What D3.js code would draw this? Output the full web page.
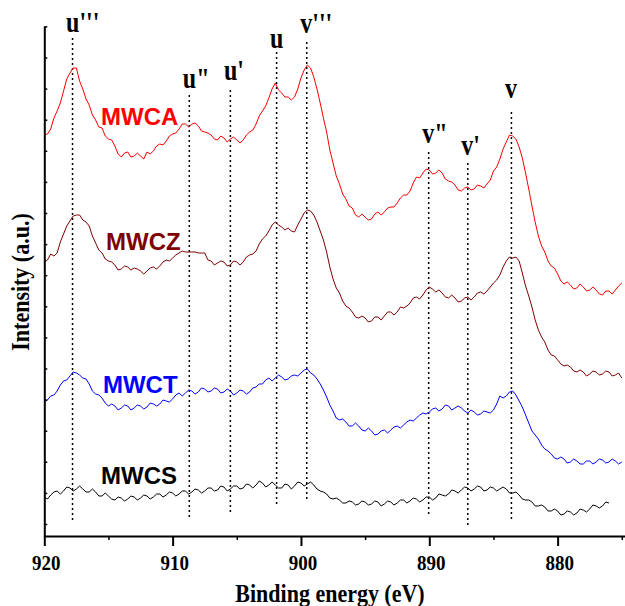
<!DOCTYPE html>
<html>
<head>
<meta charset="utf-8">
<script src="https://cdn.jsdelivr.net/npm/d3@7"></script>
<style>
  html, body { margin: 0; padding: 0; background: #fff; }
  svg { display: block; }
</style>
</head>
<body>
<svg id="chart" width="625" height="606"></svg>
<script>
// Ce 3d XPS spectra, binding energy (eV) vs intensity (a.u.), 0.25 eV steps
const energy = [
  920, 919.75, 919.5, 919.25, 919, 918.75, 918.5, 918.25,
  918, 917.75, 917.5, 917.25, 917, 916.75, 916.5, 916.25,
  916, 915.75, 915.5, 915.25, 915, 914.75, 914.5, 914.25,
  914, 913.75, 913.5, 913.25, 913, 912.75, 912.5, 912.25,
  912, 911.75, 911.5, 911.25, 911, 910.75, 910.5, 910.25,
  910, 909.75, 909.5, 909.25, 909, 908.75, 908.5, 908.25,
  908, 907.75, 907.5, 907.25, 907, 906.75, 906.5, 906.25,
  906, 905.75, 905.5, 905.25, 905, 904.75, 904.5, 904.25,
  904, 903.75, 903.5, 903.25, 903, 902.75, 902.5, 902.25,
  902, 901.75, 901.5, 901.25, 901, 900.75, 900.5, 900.25,
  900, 899.75, 899.5, 899.25, 899, 898.75, 898.5, 898.25,
  898, 897.75, 897.5, 897.25, 897, 896.75, 896.5, 896.25,
  896, 895.75, 895.5, 895.25, 895, 894.75, 894.5, 894.25,
  894, 893.75, 893.5, 893.25, 893, 892.75, 892.5, 892.25,
  892, 891.75, 891.5, 891.25, 891, 890.75, 890.5, 890.25,
  890, 889.75, 889.5, 889.25, 889, 888.75, 888.5, 888.25,
  888, 887.75, 887.5, 887.25, 887, 886.75, 886.5, 886.25,
  886, 885.75, 885.5, 885.25, 885, 884.75, 884.5, 884.25,
  884, 883.75, 883.5, 883.25, 883, 882.75, 882.5, 882.25,
  882, 881.75, 881.5, 881.25, 881, 880.75, 880.5, 880.25,
  880, 879.75, 879.5, 879.25, 879, 878.75, 878.5, 878.25,
  878, 877.75, 877.5, 877.25, 877, 876.75, 876.5, 876.25,
  876, 875.75, 875.5, 875.25, 875
];

const mwca = [
  401, 402, 407, 418, 425, 433, 445, 457, 463, 468,
  468, 455, 447, 437, 431, 421, 416, 409, 408, 400,
  397, 396, 390, 382, 379, 383, 384, 379, 380, 383,
  380, 377, 384, 382, 385, 390, 392, 391, 395, 400,
  402, 403, 407, 412, 412, 409, 412, 413, 410, 405,
  404, 403, 401, 397, 396, 400, 398, 394, 397, 399,
  396, 393, 396, 401, 404, 406, 412, 420, 425, 430,
  438, 447, 453, 446, 443, 439, 439, 436, 439, 447,
  458, 466, 471, 468, 459, 447, 433, 418, 404, 386,
  373, 360, 352, 342, 337, 330, 328, 321, 319, 322,
  319, 316, 317, 322, 324, 321, 324, 328, 329, 329,
  333, 338, 341, 341, 345, 353, 359, 358, 363, 367,
  366, 362, 363, 366, 363, 357, 355, 354, 351, 346,
  345, 348, 349, 346, 347, 351, 350, 348, 352, 356,
  365, 369, 377, 387, 394, 401, 400, 397, 389, 378,
  363, 347, 330, 314, 300, 290, 284, 275, 270, 268,
  262, 255, 252, 254, 251, 247, 248, 252, 249, 245,
  246, 249, 246, 242, 241, 245, 245, 242, 246, 250,
  253
];

const mwcz = [
  274, 276, 282, 280, 283, 294, 302, 310, 315, 320,
  321, 321, 316, 314, 310, 300, 293, 286, 283, 277,
  275, 274, 271, 266, 267, 270, 269, 266, 268, 267,
  265, 262, 265, 268, 269, 267, 270, 274, 276, 275,
  278, 281, 283, 285, 284, 284, 284, 284, 283, 283,
  283, 276, 275, 271, 273, 275, 274, 270, 271, 275,
  274, 271, 274, 279, 281, 282, 285, 292, 297, 300,
  305, 311, 314, 311, 309, 306, 308, 305, 304, 311,
  317, 323, 326, 325, 321, 314, 305, 296, 284, 269,
  257, 248, 243, 235, 230, 228, 224, 219, 218, 220,
  218, 214, 215, 219, 219, 216, 220, 224, 224, 221,
  224, 229, 228, 230, 233, 238, 239, 237, 241, 246,
  249, 247, 244, 246, 243, 239, 238, 241, 238, 234,
  235, 238, 239, 236, 239, 243, 244, 242, 245, 249,
  253, 256, 261, 269, 275, 279, 278, 279, 275, 263,
  250, 240, 229, 216, 206, 199, 194, 186, 181, 180,
  176, 172, 170, 171, 169, 165, 164, 166, 164, 160,
  162, 165, 164, 161, 162, 165, 164, 160, 161, 163,
  158
];

const mwct = [
  134, 136, 140, 141, 145, 151, 155, 156, 160, 164,
  163, 161, 158, 157, 152, 145, 142, 141, 138, 133,
  130, 132, 130, 126, 128, 131, 130, 126, 128, 131,
  130, 127, 129, 133, 132, 130, 132, 136, 135, 134,
  137, 141, 143, 140, 143, 146, 145, 142, 144, 148,
  147, 144, 145, 148, 147, 143, 144, 147, 145, 141,
  143, 146, 145, 142, 144, 148, 149, 152, 152, 156,
  158, 155, 158, 161, 159, 156, 157, 160, 161, 160,
  163, 166, 167, 163, 161, 157, 152, 146, 139, 131,
  125, 118, 116, 117, 114, 110, 110, 113, 110, 106,
  105, 108, 105, 101, 102, 105, 106, 103, 106, 109,
  110, 108, 111, 114, 116, 115, 118, 121, 123, 122,
  124, 127, 128, 125, 127, 131, 130, 126, 128, 130,
  128, 125, 123, 126, 124, 121, 122, 125, 124, 123,
  126, 132, 140, 138, 140, 144, 145, 141, 135, 129,
  121, 113, 105, 101, 97, 91, 87, 85, 82, 78,
  77, 79, 77, 73, 74, 77, 75, 72, 72, 75,
  75, 72, 74, 77, 76, 73, 74, 77, 75, 72,
  74
];

// MWCS stops at 876 eV
const mwcs = [
  39, 37, 41, 44, 45, 42, 45, 49, 48, 45,
  47, 50, 47, 44, 44, 47, 44, 40, 40, 43,
  40, 37, 36, 39, 38, 35, 37, 40, 39, 36,
  38, 41, 40, 37, 39, 42, 42, 39, 41, 44,
  43, 40, 42, 45, 45, 42, 44, 47, 46, 43,
  45, 48, 48, 45, 46, 50, 49, 45, 47, 50,
  50, 47, 48, 52, 51, 48, 51, 55, 53, 49,
  51, 54, 51, 48, 48, 52, 51, 47, 50, 54,
  53, 50, 52, 54, 51, 47, 45, 44, 42, 38,
  37, 38, 36, 33, 33, 35, 34, 31, 32, 35,
  34, 31, 32, 35, 34, 30, 32, 35, 34, 31,
  33, 36, 36, 33, 35, 38, 37, 34, 36, 39,
  39, 36, 38, 42, 41, 40, 42, 46, 45, 43,
  46, 49, 48, 45, 47, 50, 49, 45, 46, 49,
  48, 45, 47, 49, 47, 43, 43, 44, 41, 37,
  36, 36, 34, 30, 30, 31, 29, 25, 25, 27,
  25, 21, 22, 25, 24, 21, 23, 27, 26, 24,
  27, 31, 30, 28, 30, 34, 33
];

const seriesNames = ["MWCA", "MWCZ", "MWCT", "MWCS"];
const seriesValues = [mwca, mwcz, mwct, mwcs];

// Peak assignments (Ce 3d5/2 = v, Ce 3d3/2 = u)
const peakNames = ["u'''", "u\"", "u'", "u", "v'''", "v\"", "v'", "v"];
const peakEnergies = [917.8, 908.7, 905.5, 901.9, 899.55, 890.05, 887.0, 883.6];
// vertical extent of each marker line and its label level, in intensity units
const peakTop = [498, 441, 446, 484, 494, 384, 373, 424];
const peakBottom = [13, 18, 21, 31, 34, 20, 8, 16];
const peakLabelLevel = [504, 448, 456, 488, 503, 393, 381, 438];

const xMajorTicks = [920, 910, 900, 890, 880];
const xMinorTicks = [915, 905, 895, 885, 875];

// ---- layout & style ----
const colors = ["#ff0000", "#800000", "#0000ff", "#000000"];
const seriesLabelAt = [[915.58, 411], [915.19, 286], [915.43, 143], [915.58, 52]];
const serif = "'Liberation Serif', 'Times New Roman', Times, serif";
const sans = "'Liberation Sans', Arial, Helvetica, sans-serif";

const svg = d3.select("#chart");
const x = d3.scaleLinear().domain([920, 874.75]).range([44.3, 625]);
const y = d3.scaleLinear().domain([0, 510]).range([536, 26]);

// bold serif text, slightly stretched vertically
function serifText(g, px, py, str, size, sy, anchor) {
  return g.append("text")
    .attr("transform", `translate(${px},${py}) scale(1,${sy})`)
    .attr("text-anchor", anchor || "start")
    .attr("font-family", serif).attr("font-weight", "bold")
    .attr("font-size", size).attr("fill", "#000")
    .text(str);
}

// dotted peak markers
const markers = svg.append("g");
peakNames.forEach((name, i) => {
  const px = x(peakEnergies[i]);
  markers.append("line")
    .attr("x1", px).attr("x2", px)
    .attr("y1", y(peakTop[i])).attr("y2", y(peakBottom[i]))
    .attr("stroke", "#000").attr("stroke-width", 1.5)
    .attr("stroke-dasharray", "2,3");
  serifText(markers, px - 6.5, y(peakLabelLevel[i]), name, 24, 1.25);
});

// spectra
const line = d3.line()
  .x(d => x(d[0])).y(d => y(d[1]));

seriesValues.forEach((vals, i) => {
  const pts = vals.map((v, j) => [energy[j], v]);
  svg.append("path")
    .datum(pts)
    .attr("fill", "none")
    .attr("stroke", colors[i])
    .attr("stroke-width", 1)
    .attr("stroke-linejoin", "round")
    .attr("d", line);
  svg.append("text")
    .attr("x", x(seriesLabelAt[i][0])).attr("y", y(seriesLabelAt[i][1]))
    .attr("font-family", sans).attr("font-weight", "bold")
    .attr("font-size", 24).attr("fill", colors[i])
    .text(seriesNames[i]);
});

// x axis
const xAxis = svg.append("g").attr("transform", `translate(0,${y(0)})`)
  .call(d3.axisBottom(x).tickValues(xMajorTicks).tickSize(10).tickSizeOuter(0).tickFormat(""));
xAxis.select(".domain").attr("stroke-width", 2);
xAxis.selectAll(".tick line").attr("stroke-width", 2);

const xMinor = svg.append("g").attr("transform", `translate(0,${y(0)})`)
  .call(d3.axisBottom(x).tickValues(xMinorTicks).tickSize(4).tickSizeOuter(0).tickFormat(""));
xMinor.select(".domain").remove();
xMinor.selectAll(".tick line").attr("stroke-width", 1.5);

const xLabels = svg.append("g");
xMajorTicks.forEach(t => serifText(xLabels, x(t) + 2, 570, d3.format("d")(t), 19, 1.15, "middle"));

// y axis (unlabelled ticks pointing inward)
const yTickVals = d3.range(17).map(k => 12 + 31.1 * k);
const yAxis = svg.append("g").attr("transform", `translate(${x(920)},0)`)
  .call(d3.axisRight(y).tickValues(yTickVals).tickSize(3).tickSizeOuter(0).tickFormat(""));
yAxis.select(".domain").attr("stroke-width", 2);
yAxis.selectAll(".tick line").attr("stroke-width", 1.5);

// axis titles
serifText(svg, 330, 602, "Binding energy (eV)", 22, 1.1, "middle");

svg.append("text")
  .attr("transform", "translate(29,282) rotate(-90) scale(1,1.1)")
  .attr("text-anchor", "middle")
  .attr("font-family", serif).attr("font-weight", "bold").attr("font-size", 22)
  .text("Intensity (a.u.)");
</script>
</body>
</html>
